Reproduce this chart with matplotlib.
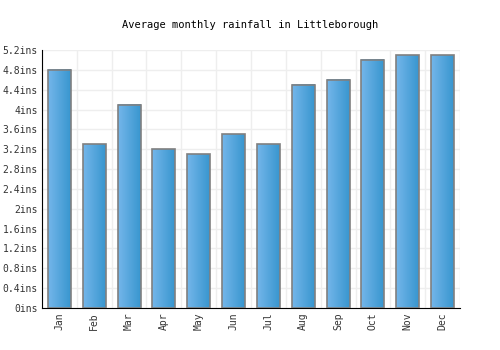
import numpy as np
import matplotlib
matplotlib.use('Agg')
from matplotlib import pyplot as plt
from matplotlib.colors import LinearSegmentedColormap

months = ['Jan', 'Feb', 'Mar', 'Apr', 'May', 'Jun', 'Jul', 'Aug', 'Sep', 'Oct', 'Nov', 'Dec']
rainfall = [4.8, 3.3, 4.1, 3.2, 3.1, 3.5, 3.3, 4.5, 4.6, 5.0, 5.1, 5.1]
yticks = [0, 0.4, 0.8, 1.2, 1.6, 2.0, 2.4, 2.8, 3.2, 3.6, 4.0, 4.4, 4.8, 5.2]
ytick_labels = ['0ins', '0.4ins', '0.8ins', '1.2ins', '1.6ins', '2ins', '2.4ins', '2.8ins',
                '3.2ins', '3.6ins', '4ins', '4.4ins', '4.8ins', '5.2ins']

plt.rcParams['font.family'] = ['DejaVu Sans Mono']

fig = plt.figure(figsize=(5, 3.5), dpi=100)
ax = fig.add_axes([0.084, 0.12, 0.836, 0.737])

grad = LinearSegmentedColormap.from_list('bar', ['#74b6ea', '#3896cf'])
gimg = np.linspace(0, 1, 64).reshape(1, -1)

x = np.arange(len(months))
width = 0.66
bars = ax.bar(x, rainfall, width=width, color='none', edgecolor='#808080', linewidth=1.2, zorder=3)
for b in bars:
    x0, y0 = b.get_x(), b.get_y()
    ax.imshow(gimg, cmap=grad, aspect='auto', interpolation='bicubic',
              extent=[x0, x0 + b.get_width(), y0, y0 + b.get_height()], zorder=2)

ax.set_xlim(-0.5, len(months) - 0.5)
ax.set_ylim(0, 5.2)
ax.set_yticks(yticks)
ax.set_yticklabels(ytick_labels, fontsize=7, color='#333333')
ax.set_xticks(x)
ax.set_xticklabels(months, rotation=90, fontsize=7, color='#333333')
ax.set_xticks(np.arange(-0.5, len(months), 1), minor=True)
ax.tick_params(axis='both', which='both', length=0, pad=3)
ax.grid(True, axis='y', which='major', color='#eeeeee', linewidth=1, zorder=0)
ax.grid(True, axis='x', which='minor', color='#eeeeee', linewidth=1, zorder=0)
ax.set_axisbelow(True)

for s in ['top', 'right']:
    ax.spines[s].set_visible(False)
ax.spines['left'].set_color('black')
ax.spines['bottom'].set_color('black')

fig.text(0.5, 0.93, 'Average monthly rainfall in Littleborough', ha='center', va='center', fontsize=7.5)

fig.savefig('out.png', dpi=100)
